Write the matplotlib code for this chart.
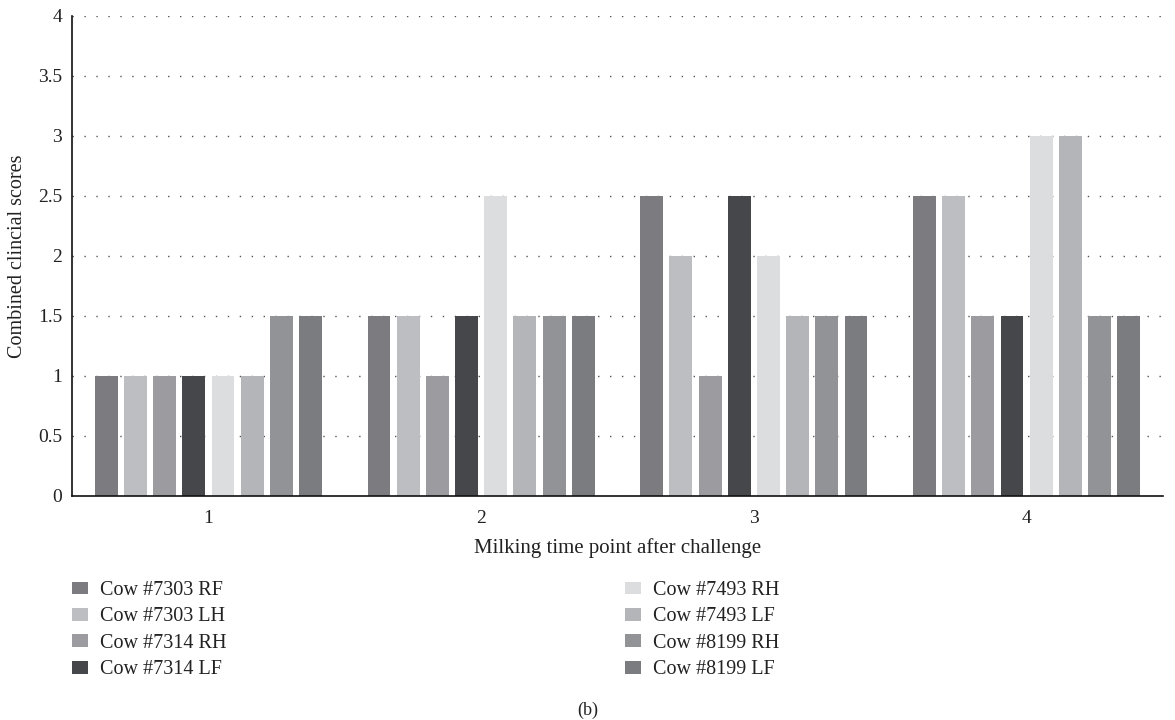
import numpy as np
import matplotlib
matplotlib.use('Agg')
import matplotlib.pyplot as plt
from matplotlib.patches import Patch

plt.rcParams['font.family'] = ['Liberation Serif', 'DejaVu Serif']

# 数据
time_points = ['1', '2', '3', '4']
cows = ['Cow #7303 RF', 'Cow #7303 LH', 'Cow #7314 RH', 'Cow #7314 LF',
        'Cow #7493 RH', 'Cow #7493 LF', 'Cow #8199 RH', 'Cow #8199 LF']
scores = [
    [1.0, 1.5, 2.5, 2.5],   # 7303 RF
    [1.0, 1.5, 2.0, 2.5],   # 7303 LH
    [1.0, 1.0, 1.0, 1.5],   # 7314 RH
    [1.0, 1.5, 2.5, 1.5],   # 7314 LF
    [1.0, 2.5, 2.0, 3.0],   # 7493 RH
    [1.0, 1.5, 1.5, 3.0],   # 7493 LF
    [1.5, 1.5, 1.5, 1.5],   # 8199 RH
    [1.5, 1.5, 1.5, 1.5],   # 8199 LF
]
colors = ['#7c7c80', '#bdbec1', '#9c9ca0', '#46474a',
          '#dcdddf', '#b4b5b8', '#929397', '#7b7c80']

fig = plt.figure(figsize=(11.75, 7.2), dpi=100)
ax = fig.add_axes([72/1175, 1-496/720, (1163-72)/1175, 480/720])

x = np.arange(1, len(time_points) + 1)
pitch = 0.107
width = 0.084
for i, (name, vals) in enumerate(zip(cows, scores)):
    offset = (i - 3.5) * pitch
    ax.bar(x + offset, vals, width=width, color=colors[i], label=name, zorder=2)

ax.set_xlim(0.5, 4.5)
ax.set_ylim(0, 4)
ax.set_yticks(np.arange(0, 4.01, 0.5))
ax.set_yticklabels(['0', '0.5', '1', '1.5', '2', '2.5', '3', '3.5', '4'])
ax.set_xticks(x)
ax.set_xticklabels(time_points)
ax.tick_params(axis='both', length=0, labelsize=14, colors='#222222')
ax.tick_params(axis='x', pad=10)
ax.tick_params(axis='y', pad=7)
ax.yaxis.grid(True, linestyle=(0, (1, 7.6)), color='#555555', linewidth=1.0, zorder=0)
ax.set_axisbelow(True)
for s in ['top', 'right']:
    ax.spines[s].set_visible(False)
for s in ['left', 'bottom']:
    ax.spines[s].set_color('#111111')
    ax.spines[s].set_linewidth(1.2)

ax.set_xlabel('Milking time point after challenge', fontsize=15, color='#222222', labelpad=8)
ax.set_ylabel('Combined clincial scores', fontsize=14.5, color='#222222', labelpad=8)

handles = [Patch(facecolor=c, edgecolor='none') for c in colors]
common = dict(frameon=False, fontsize=14.5, handlelength=0.8, handleheight=0.6,
              handletextpad=0.6, labelspacing=0.37, borderaxespad=0, borderpad=0)
leg1 = fig.legend(handles[:4], cows[:4], loc='upper left',
                  bbox_to_anchor=(72/1175, 1-581/720), **common)
leg2 = fig.legend(handles[4:], cows[4:], loc='upper left',
                  bbox_to_anchor=(625/1175, 1-581/720), **common)
for leg in (leg1, leg2):
    for t in leg.get_texts():
        t.set_color('#222222')

fig.text(0.5, 1-710/720, '(b)', ha='center', va='center', fontsize=13, color='#222222')

fig.savefig('out.png', dpi=100)
